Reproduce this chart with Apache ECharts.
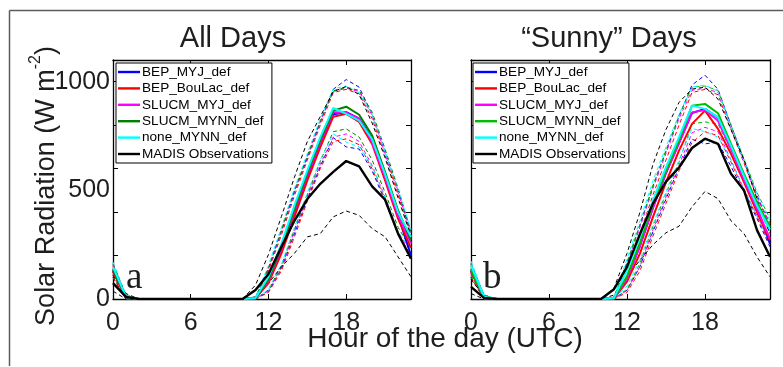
<!DOCTYPE html>
<html>
<head>
<meta charset="utf-8">
<script src="https://cdn.jsdelivr.net/npm/echarts@6/dist/echarts.min.js"></script>
<style>
  html, body { margin: 0; padding: 0; background: #fff; }
  #chart { width: 783px; height: 367px; }
</style>
</head>
<body>
<div id="chart"></div>
<script>
// Hour of the day (UTC)
const hours = [0, 1, 2, 3, 4, 5, 6, 7, 8, 9, 10, 11, 12, 13, 14, 15, 16, 17, 18, 19, 20, 21, 22, 23];
const xTicks = [0, 6, 12, 18];
const yTicks = [0, 500, 1000];
const modelNames = ['BEP_MYJ_def', 'BEP_BouLac_def', 'SLUCM_MYJ_def', 'SLUCM_MYNN_def', 'none_MYNN_def'];
const obsName = 'MADIS Observations';
const panelTitles = ['All Days', '\u201cSunny\u201d Days'];
const panelLetters = ['a', 'b'];

// ---- All days: mean and +/- one standard deviation (W m-2) ----
const allObs     = [73, 10, 0, 0, 0, 0, 0, 0, 0, 0, 0, 41, 115, 240, 360, 460, 530, 585, 635, 610, 518, 457, 301, 185];
const allObsHi   = [110, 25, 0, 0, 0, 0, 0, 0, 0, 0, 0, 64, 205, 380, 560, 725, 840, 955, 978, 940, 810, 650, 465, 290];
const allObsLo   = [36, 0, 0, 0, 0, 0, 0, 0, 0, 0, 0, 10, 72, 148, 210, 286, 301, 378, 405, 385, 324, 286, 194, 102];

const allBepMyj     = [130, 8, 0, 0, 0, 0, 0, 0, 0, 0, 0, 4, 85, 228, 400, 565, 720, 850, 860, 830, 735, 555, 385, 200];
const allBepMyjHi   = [158, 18, 0, 0, 0, 0, 0, 0, 0, 0, 0, 8, 140, 310, 490, 650, 815, 965, 1010, 975, 850, 680, 500, 300];
const allBepMyjLo   = [100, 0, 0, 0, 0, 0, 0, 0, 0, 0, 0, 0, 35, 140, 300, 460, 610, 742, 700, 690, 590, 450, 300, 190];

const allBepBoulac   = [125, 8, 0, 0, 0, 0, 0, 0, 0, 0, 0, 3, 73, 210, 378, 546, 699, 839, 852, 815, 714, 546, 370, 235];
const allBepBoulacHi = [152, 16, 0, 0, 0, 0, 0, 0, 0, 0, 0, 6, 130, 295, 475, 640, 800, 950, 965, 945, 830, 660, 480, 290];
const allBepBoulacLo = [98, 0, 0, 0, 0, 0, 0, 0, 0, 0, 0, 0, 30, 130, 285, 450, 600, 725, 737, 710, 600, 460, 300, 200];

const allSlucmMyj   = [140, 9, 0, 0, 0, 0, 0, 0, 0, 0, 0, 4, 85, 232, 405, 570, 722, 859, 858, 830, 722, 560, 385, 257];
const allSlucmMyjHi = [165, 18, 0, 0, 0, 0, 0, 0, 0, 0, 0, 8, 140, 315, 495, 655, 815, 955, 970, 955, 845, 670, 490, 305];
const allSlucmMyjLo = [112, 0, 0, 0, 0, 0, 0, 0, 0, 0, 0, 0, 38, 145, 310, 470, 620, 745, 760, 725, 615, 470, 310, 215];

const allSlucmMynn   = [135, 8, 0, 0, 0, 0, 0, 0, 0, 0, 0, 4, 90, 240, 415, 580, 732, 867, 885, 848, 752, 584, 408, 270];
const allSlucmMynnHi = [160, 17, 0, 0, 0, 0, 0, 0, 0, 0, 0, 8, 145, 320, 500, 660, 820, 958, 975, 960, 860, 690, 510, 310];
const allSlucmMynnLo = [108, 0, 0, 0, 0, 0, 0, 0, 0, 0, 0, 0, 42, 155, 320, 480, 635, 770, 783, 745, 640, 490, 330, 230];

const allNoneMynn   = [148, 10, 0, 0, 0, 0, 0, 0, 0, 0, 0, 5, 102, 255, 431, 592, 745, 879, 852, 821, 735, 575, 400, 286];
const allNoneMynnHi = [170, 20, 0, 0, 0, 0, 0, 0, 0, 0, 0, 9, 155, 330, 510, 670, 830, 968, 980, 950, 850, 680, 505, 320];
const allNoneMynnLo = [118, 0, 0, 0, 0, 0, 0, 0, 0, 0, 0, 0, 45, 160, 330, 490, 640, 760, 722, 700, 610, 465, 310, 225];

// ---- "Sunny" days ----
const sunObs     = [56, 5, 0, 0, 0, 0, 0, 0, 0, 0, 0, 45, 148, 300, 440, 540, 605, 695, 738, 714, 576, 500, 317, 194];
const sunObsHi   = [90, 15, 0, 0, 0, 0, 0, 0, 0, 0, 0, 50, 210, 400, 620, 780, 905, 966, 975, 920, 780, 640, 460, 300];
const sunObsLo   = [25, 0, 0, 0, 0, 0, 0, 0, 0, 0, 0, 18, 100, 180, 250, 305, 335, 424, 495, 462, 360, 301, 194, 102];

const sunBepMyj     = [130, 8, 0, 0, 0, 0, 0, 0, 0, 0, 0, 4, 95, 245, 420, 580, 720, 856, 875, 835, 700, 555, 420, 255];
const sunBepMyjHi   = [158, 18, 0, 0, 0, 0, 0, 0, 0, 0, 0, 8, 165, 340, 520, 680, 840, 985, 1030, 965, 800, 640, 480, 330];
const sunBepMyjLo   = [100, 0, 0, 0, 0, 0, 0, 0, 0, 0, 0, 0, 40, 150, 310, 460, 605, 735, 714, 722, 610, 490, 370, 240];

const sunBepBoulac   = [125, 8, 0, 0, 0, 0, 0, 0, 0, 0, 0, 3, 80, 210, 378, 538, 683, 806, 867, 783, 668, 538, 400, 270];
const sunBepBoulacHi = [152, 16, 0, 0, 0, 0, 0, 0, 0, 0, 0, 6, 140, 300, 480, 640, 800, 950, 965, 940, 780, 625, 465, 350];
const sunBepBoulacLo = [98, 0, 0, 0, 0, 0, 0, 0, 0, 0, 0, 0, 30, 130, 290, 440, 590, 720, 770, 752, 630, 500, 380, 250];

const sunSlucmMyj   = [140, 9, 0, 0, 0, 0, 0, 0, 0, 0, 0, 4, 95, 245, 420, 580, 715, 859, 870, 820, 690, 550, 415, 278];
const sunSlucmMyjHi = [165, 18, 0, 0, 0, 0, 0, 0, 0, 0, 0, 8, 160, 330, 510, 670, 830, 960, 970, 950, 790, 630, 470, 345];
const sunSlucmMyjLo = [112, 0, 0, 0, 0, 0, 0, 0, 0, 0, 0, 0, 40, 150, 320, 470, 615, 765, 790, 770, 640, 505, 385, 255];

const sunSlucmMynn   = [135, 8, 0, 0, 0, 0, 0, 0, 0, 0, 0, 4, 105, 260, 435, 590, 730, 890, 898, 855, 714, 576, 446, 332];
const sunSlucmMynnHi = [160, 17, 0, 0, 0, 0, 0, 0, 0, 0, 0, 8, 170, 345, 525, 685, 845, 975, 980, 960, 800, 645, 490, 370];
const sunSlucmMynnLo = [108, 0, 0, 0, 0, 0, 0, 0, 0, 0, 0, 0, 45, 165, 335, 485, 630, 806, 815, 806, 683, 560, 440, 300];

const sunNoneMynn   = [155, 10, 0, 0, 0, 0, 0, 0, 0, 0, 0, 5, 133, 286, 454, 607, 745, 890, 875, 836, 705, 565, 430, 320];
const sunNoneMynnHi = [175, 20, 0, 0, 0, 0, 0, 0, 0, 0, 0, 9, 185, 360, 545, 700, 850, 975, 985, 955, 795, 635, 485, 360];
const sunNoneMynnLo = [120, 0, 0, 0, 0, 0, 0, 0, 0, 0, 0, 0, 60, 180, 345, 495, 640, 785, 770, 745, 640, 500, 380, 260];

// ---- styling ----
const SANS = '"Liberation Sans", Arial, Helvetica, sans-serif';
const SERIF = '"Liberation Serif", "Times New Roman", serif';
const TEXT = '#1e1e1e';
const colorsAll = ['#0000ff', '#ff0000', '#ff00ff', '#008000', '#00ffff'];
const colorsSun = ['#0000ff', '#ff0000', '#ff00ff', '#00bb00', '#00ffff'];

const panels = [
  {
    grid: { left: 113, top: 60, width: 298, height: 239 },
    colors: colorsAll,
    models: [
      [allBepMyj, allBepMyjHi, allBepMyjLo],
      [allBepBoulac, allBepBoulacHi, allBepBoulacLo],
      [allSlucmMyj, allSlucmMyjHi, allSlucmMyjLo],
      [allSlucmMynn, allSlucmMynnHi, allSlucmMynnLo],
      [allNoneMynn, allNoneMynnHi, allNoneMynnLo]
    ],
    obs: [allObs, allObsHi, allObsLo],
    legendPos: { left: 116, top: 63 },
    titleX: 233, letterX: 126
  },
  {
    grid: { left: 471, top: 60, width: 299, height: 239 },
    colors: colorsSun,
    models: [
      [sunBepMyj, sunBepMyjHi, sunBepMyjLo],
      [sunBepBoulac, sunBepBoulacHi, sunBepBoulacLo],
      [sunSlucmMyj, sunSlucmMyjHi, sunSlucmMyjLo],
      [sunSlucmMynn, sunSlucmMynnHi, sunSlucmMynnLo],
      [sunNoneMynn, sunNoneMynnHi, sunNoneMynnLo]
    ],
    obs: [sunObs, sunObsHi, sunObsLo],
    legendPos: { left: 473, top: 63 },
    titleX: 609, letterX: 483
  }
];

const pairs = values => hours.map((h, i) => [h, values[i]]);

const grids = [], xAxes = [], yAxes = [], series = [], legends = [], graphics = [];

const frameLine = { show: true, onZero: false, lineStyle: { color: '#000', width: 1.3 } };
const inTick = { show: true, inside: true, length: 5, lineStyle: { color: '#000', width: 1 } };

panels.forEach((p, pi) => {
  grids.push(p.grid);

  // bottom / top hour axes
  const xBottom = xAxes.length;
  xAxes.push({
    type: 'value', gridIndex: pi, min: 0, max: 23, interval: 6, position: 'bottom',
    axisLine: frameLine, axisTick: inTick, splitLine: { show: false },
    axisLabel: {
      show: true, margin: 12, color: TEXT, fontSize: 25, fontFamily: SANS,
      formatter: v => (xTicks.indexOf(v) >= 0 ? String(v) : '')
    }
  });
  xAxes.push({
    type: 'value', gridIndex: pi, min: 0, max: 23, interval: 6, position: 'top',
    axisLine: frameLine, axisTick: inTick, axisLabel: { show: false }, splitLine: { show: false }
  });

  // left ticks, left labels (first panel only), right ticks
  const yLeft = yAxes.length;
  yAxes.push({
    type: 'value', gridIndex: pi, min: 0, max: 1100, interval: 200, position: 'left',
    axisLine: frameLine, axisTick: inTick, axisLabel: { show: false }, splitLine: { show: false }
  });
  if (pi === 0) {
    yAxes.push({
      type: 'value', gridIndex: pi, min: 0, max: 1100, interval: 500, position: 'left',
      axisLine: { show: false }, axisTick: { show: false }, splitLine: { show: false },
      axisLabel: {
        show: true, margin: 3, color: TEXT, fontSize: 25, fontFamily: SANS,
        formatter: v => (yTicks.indexOf(v) >= 0 ? String(v) : '')
      }
    });
  }
  yAxes.push({
    type: 'value', gridIndex: pi, min: 0, max: 1100, interval: 200, position: 'right',
    axisLine: frameLine, axisTick: inTick, axisLabel: { show: false }, splitLine: { show: false }
  });

  const base = { type: 'line', xAxisIndex: xBottom, yAxisIndex: yLeft, symbol: 'none', silent: true, animation: false };

  // spread lines (dashed)
  p.models.forEach((m, mi) => {
    ['upper', 'lower'].forEach((tag, k) => {
      series.push(Object.assign({}, base, {
        name: modelNames[mi] + ' ' + tag, z: 2,
        data: pairs(m[k + 1]),
        lineStyle: { color: p.colors[mi], width: 1, type: [4, 3] }
      }));
    });
  });
  ['upper', 'lower'].forEach((tag, k) => {
    series.push(Object.assign({}, base, {
      name: obsName + ' ' + tag, z: 2,
      data: pairs(p.obs[k + 1]),
      lineStyle: { color: '#000', width: 1, type: [4, 3] }
    }));
  });

  // means (solid)
  p.models.forEach((m, mi) => {
    series.push(Object.assign({}, base, {
      name: modelNames[mi], z: 3, color: p.colors[mi],
      data: pairs(m[0]),
      lineStyle: { color: p.colors[mi], width: 2 }
    }));
  });
  series.push(Object.assign({}, base, {
    name: obsName, z: 4, color: '#000',
    data: pairs(p.obs[0]),
    lineStyle: { color: '#000', width: 2.4 }
  }));

  // legend: short coloured bars beside each name
  legends.push({
    orient: 'vertical', left: p.legendPos.left, top: p.legendPos.top,
    padding: [2, 3, 2, 2], itemGap: 2.4, itemWidth: 22, itemHeight: 2.4,
    backgroundColor: '#fff', borderColor: '#000', borderWidth: 1, selectedMode: false,
    textStyle: { fontSize: 13.6, lineHeight: 14, fontFamily: SANS, color: '#000', padding: [0, 0, 0, -3] },
    data: modelNames.map((n, mi) => ({ name: n, icon: 'rect', itemStyle: { color: p.colors[mi] } }))
      .concat([{ name: obsName, icon: 'rect', itemStyle: { color: '#000' } }])
  });

  graphics.push({
    type: 'text', x: p.titleX, y: 39, z: 10,
    style: { text: panelTitles[pi], fontSize: 29, fontFamily: SANS, fill: TEXT, textAlign: 'center', textVerticalAlign: 'middle' }
  });
  graphics.push({
    type: 'text', x: p.letterX, y: 278, z: 10,
    style: { text: panelLetters[pi], fontSize: 37, fontFamily: SERIF, fill: TEXT, textAlign: 'left', textVerticalAlign: 'middle' }
  });
});

// shared axis titles
graphics.push({
  type: 'text', x: 445, y: 339, z: 10,
  style: { text: 'Hour of the day (UTC)', fontSize: 28, fontFamily: SANS, fill: TEXT, textAlign: 'center', textVerticalAlign: 'middle' }
});
graphics.push({
  type: 'text', x: 44, y: 186, rotation: Math.PI / 2, z: 10,
  style: {
    text: '{m|Solar Radiation (W m}{s|-2}{m|)}',
    textAlign: 'center', textVerticalAlign: 'middle', fill: TEXT,
    rich: {
      m: { fontSize: 27, fontFamily: SANS, fill: TEXT, verticalAlign: 'bottom', lineHeight: 32 },
      s: { fontSize: 16, fontFamily: SANS, fill: TEXT, verticalAlign: 'top', lineHeight: 32 }
    }
  }
});
// page frame
graphics.push({ type: 'line', z: 1, shape: { x1: 9.5, y1: 10.5, x2: 783, y2: 10.5 }, style: { stroke: '#5c5c5c', lineWidth: 1.5 } });
graphics.push({ type: 'line', z: 1, shape: { x1: 9.5, y1: 10.5, x2: 9.5, y2: 366 }, style: { stroke: '#5c5c5c', lineWidth: 1.5 } });

const chart = echarts.init(document.getElementById('chart'), null, { renderer: 'canvas' });
chart.setOption({
  animation: false,
  backgroundColor: '#fff',
  grid: grids, xAxis: xAxes, yAxis: yAxes,
  legend: legends, series: series, graphic: graphics
});
</script>
</body>
</html>
